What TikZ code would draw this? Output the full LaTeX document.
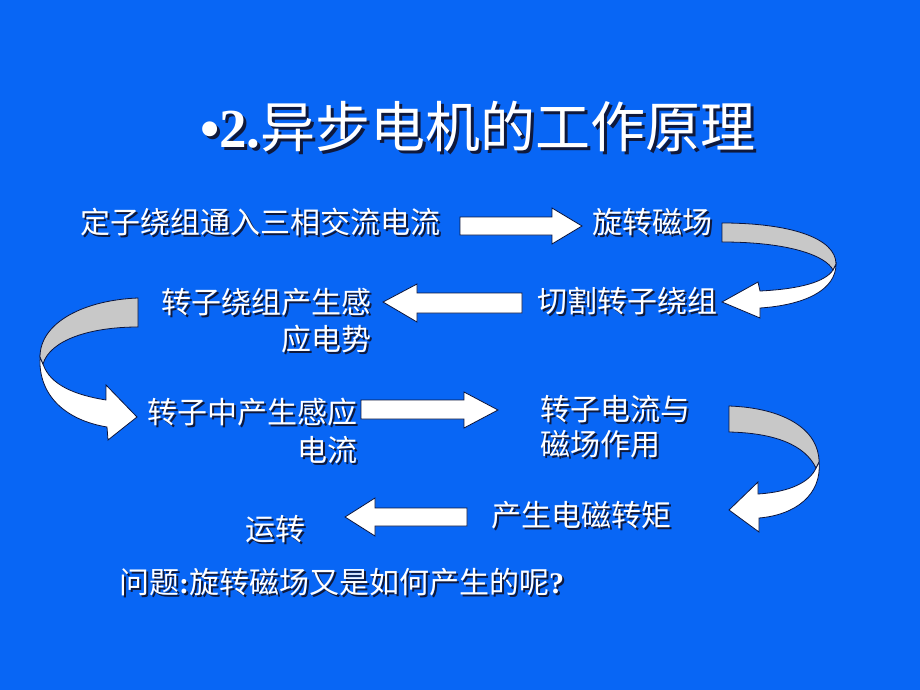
\documentclass[tikz,border=0pt]{standalone}
\usepackage{fontspec}
\setmainfont{Noto Sans CJK SC}
\newfontfamily\tnr{Liberation Serif}
\definecolor{bg}{RGB}{8,102,245}
\definecolor{shadowc}{RGB}{15,25,60}
\definecolor{edge}{RGB}{10,20,60}
\definecolor{band}{RGB}{200,200,200}
\newcommand\shd[1]{\leavevmode\rlap{\kern2pt\raisebox{-2pt}{\color{shadowc}#1}}#1}
\newcommand\shdt[1]{\leavevmode\rlap{\kern3pt\raisebox{-3pt}{\color{shadowc}#1}}#1}
\begin{document}
\begin{tikzpicture}[x=1pt,y=-1pt,
  txt/.style={text=white, inner sep=0pt, font=\fontsize{30}{36}\selectfont},
  ttl/.style={text=white, inner sep=0pt, font=\fontsize{55}{66}\selectfont},
  blockarrow/.style={fill=white, draw=edge, line width=0.8pt, line join=miter},
  ribbon/.style={fill=band, draw=edge, line width=0.8pt},
  ribbonw/.style={fill=white, draw=edge, line width=0.8pt, line join=miter},
]
\fill[bg] (0,0) rectangle (920,690);
\useasboundingbox (0,0) rectangle (920,690);

% title
\node[ttl, anchor=base west] (title) at (200,147) {\shdt{{\tnr\bfseries\textbullet2.}异步电机的工作原理}};

% texts
\node[txt, anchor=base west] (t1) at (80,233) {\shd{定子绕组通入三相交流电流}};
\node[txt, anchor=base west] (t2) at (592,233) {\shd{旋转磁场}};
\node[txt, anchor=base west] (t3) at (537,312) {\shd{切割转子绕组}};
\node[txt, anchor=base east] (t4a) at (372,313) {\shd{转子绕组产生感}};
\node[txt, anchor=base east] (t4b) at (372,350) {\shd{应电势}};
\node[txt, anchor=base east] (t5a) at (358,423) {\shd{转子中产生感应}};
\node[txt, anchor=base east] (t5b) at (358,461) {\shd{电流}};
\node[txt, anchor=base west] (t6a) at (540,420) {\shd{转子电流与}};
\node[txt, anchor=base west] (t6b) at (540,455) {\shd{磁场作用}};
\node[txt, anchor=base west] (t7) at (491,526) {\shd{产生电磁转矩}};
\node[txt, anchor=base west] (t8) at (245,540) {\shd{运转}};
\node[txt, anchor=base west] (q) at (119,593) {\shd{问题{\tnr\bfseries :}旋转磁场又是如何产生的呢{\tnr\bfseries ?}}};

% straight block arrows
\draw[blockarrow] (460,217) -- (552,217) -- (552,208) -- (582,226) -- (552,244) -- (552,235) -- (460,235) -- cycle;
\draw[blockarrow] (522,293) -- (417,293) -- (417,284) -- (383,302) -- (417,322) -- (417,313) -- (522,313) -- cycle;
\draw[blockarrow] (361,400) -- (464,400) -- (464,392) -- (498,410) -- (464,428) -- (464,419) -- (361,419) -- cycle;
\draw[blockarrow] (467,508) -- (375,508) -- (375,498) -- (345,517) -- (375,536) -- (375,526) -- (467,526) -- cycle;

% curved ribbon arrow, top right
\draw[ribbonw] (836,264) .. controls (836,290) and (805,305) .. (760,308) -- (760,318) -- (722,302) -- (758,282) -- (760,291) .. controls (800,289) and (825,282) .. (833,270) -- cycle;
\draw[ribbon] (722,223) .. controls (790,223) and (836,238) .. (836,264) -- (833,270) .. controls (826,256) and (790,242) .. (722,242) -- cycle;

% curved ribbon arrow, left
\draw[ribbonw] (40,357) .. controls (38,395) and (65,420) .. (107,427) -- (108,440) -- (137,417) -- (106,385) -- (106,400) .. controls (75,395) and (50,385) .. (43,364) -- cycle;
\draw[ribbon] (138,298) .. controls (85,300) and (40,322) .. (40,357) -- (43,364) .. controls (50,340) and (90,327) .. (138,327) -- cycle;

% curved ribbon arrow, bottom right
\draw[ribbonw] (819,462) .. controls (822,495) and (795,515) .. (759,518) -- (759,532) -- (729,510) -- (758,482) -- (758,494) .. controls (790,492) and (810,482) .. (816,468) -- cycle;
\draw[ribbon] (729,406) .. controls (785,408) and (819,430) .. (819,462) -- (816,468) .. controls (805,445) and (775,433) .. (729,432) -- cycle;
\end{tikzpicture}
\end{document}
